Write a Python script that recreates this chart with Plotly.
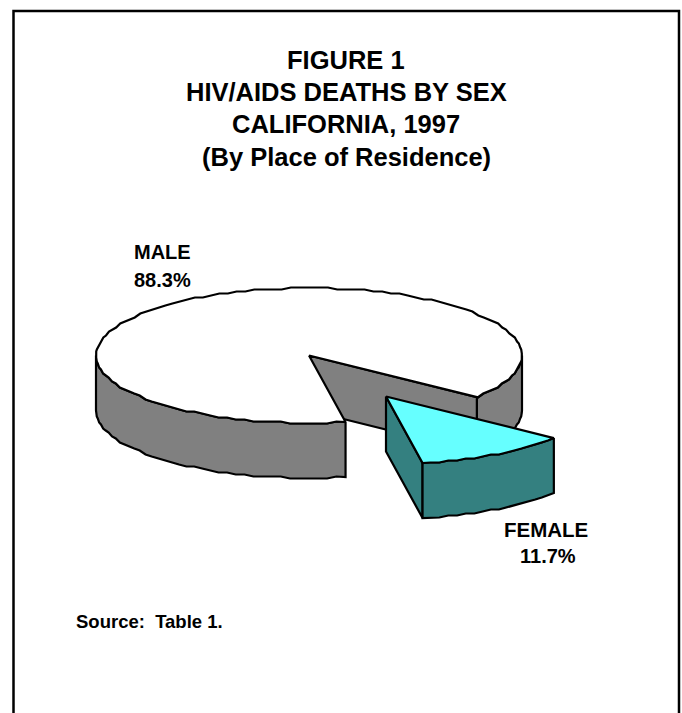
import numpy as np
import plotly.graph_objects as go

categories = ["MALE", "FEMALE"]
shares = [88.3, 11.7]
title_lines = ["FIGURE 1", "HIV/AIDS DEATHS BY SEX", "CALIFORNIA, 1997", "(By Place of Residence)"]
source_note = "Source:\u00a0\u00a0Table 1."

# projection of the 3-d pie, in page pixels
CX, CY = 309, 355.5
RX, RY = 213, 67.5
DEPTH = 55
EXPLODE = (77, 41)
START = 38.0  # where the female wedge begins, degrees clockwise from 3 o'clock
STEP = 2  # the old raster pie has stair-stepped edges

GREY = "#808080"
CYAN = "#66ffff"
TEAL = "#348080"


def arc(t0, t1, dx=0, dy=0):
    t = np.radians(np.append(np.arange(t0, t1, 2.5), t1))
    y = RY * np.sin(t)
    y[1:-1] = np.round(y[1:-1] / STEP) * STEP
    return list(CX + dx + RX * np.cos(t)), list(CY + dy + y)


def poly(fig, xs, ys, color):
    fig.add_trace(go.Scatter(x=xs + xs[:1], y=ys + ys[:1], mode="lines", fill="toself",
                             fillcolor=color, line=dict(color="black", width=2.2), hoverinfo="skip"))


def wall(fig, t0, t1, color, dx=0, dy=0):
    x, y = arc(t0, t1, dx, dy)
    poly(fig, x + x[::-1], y + [v + DEPTH for v in y[::-1]], color)


def radial(fig, t, color, dx=0, dy=0):
    x, y = arc(t, t, dx, dy)
    ax, ay = CX + dx, CY + dy
    poly(fig, [ax, x[0], x[0], ax], [ay, y[0], y[0] + DEPTH, ay + DEPTH], color)


female_end = START + shares[1] * 3.6

fig = go.Figure()

# male wedge, back to front
wall(fig, 0, START, GREY)
radial(fig, START, GREY)
wall(fig, female_end, 180, GREY)
x, y = arc(female_end, 360 + START)
poly(fig, [CX] + x, [CY] + y, "white")

# female wedge, pulled out
radial(fig, female_end, TEAL, *EXPLODE)
wall(fig, START, female_end, TEAL, *EXPLODE)
x, y = arc(START, female_end, *EXPLODE)
poly(fig, [CX + EXPLODE[0]] + x, [CY + EXPLODE[1]] + y, CYAN)

annotations = []
for line, py in zip(title_lines, [59.5, 92, 124, 156.5]):
    annotations.append(dict(x=346, y=py, text=line, font_size=25.5))
annotations += [
    dict(x=162, y=252, text=categories[0], font_size=20),
    dict(x=162, y=280, text=f"{shares[0]}%", font_size=20),
    dict(x=546, y=529, text=categories[1], font_size=20.5),
    dict(x=548, y=556, text=f"{shares[1]}%", font_size=20),
    dict(x=149, y=621, text=source_note, font_size=18.5),
]
for a in annotations:
    a.update(xref="x", yref="y", showarrow=False, xanchor="center", yanchor="middle")
    a["text"] = f"<b>{a['text']}</b>"
    a["font"] = dict(family="Liberation Sans", color="black", size=a.pop("font_size"))

fig.update_layout(
    width=682, height=713, margin=dict(l=0, r=0, t=0, b=0),
    paper_bgcolor="white", plot_bgcolor="white", showlegend=False,
    xaxis=dict(range=[0, 682], visible=False, fixedrange=True),
    yaxis=dict(range=[713, 0], visible=False, fixedrange=True),
    annotations=annotations,
    shapes=[dict(type="rect", x0=13.5, y0=11, x1=679, y1=760, xref="x", yref="y",
                 line=dict(color="black", width=2.5), layer="below")],
)

fig.write_html("out.html", config={"displayModeBar": False},
               post_script="document.body.style.margin='0';document.documentElement.style.overflow='hidden';")
